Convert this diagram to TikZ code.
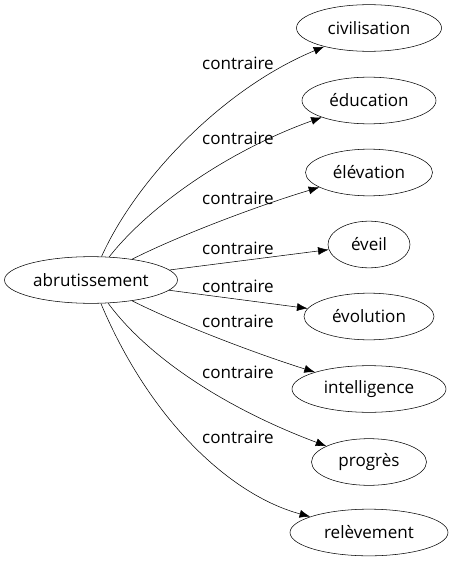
\documentclass[tikz,border=0pt]{standalone}
\usepackage{fontspec}
\setmainfont{Open Sans}
\usetikzlibrary{shapes.geometric, arrows.meta}

\tikzset{
  mot/.style = {ellipse, draw, inner sep = 0pt, minimum height = 35pt},
  rel/.style = {font = \fontsize{12.8}{15}\selectfont}
}

\begin{document}
\begin{tikzpicture}[x = 0.75pt, y = -0.75pt, >={Latex[length = 8pt, width = 6pt]},
                    font = \fontsize{12.8}{15}\selectfont]
        \useasboundingbox (0, 0) rectangle (451, 563);

        \node[mot, minimum width = 129.75pt] (abr) at (91, 280) {abrutissement};

        \node[mot, minimum width = 108.75pt] (civ) at (369, 28) {civilisation};
        \node[mot, minimum width = 100.5pt] (edu) at (369, 100.5) {éducation};
        \node[mot, minimum width = 95.25pt] (elev) at (369, 172.5) {élévation};
        \node[mot, minimum width = 61.5pt] (eveil) at (369, 244.5) {éveil};
        \node[mot, minimum width = 97.5pt] (evol) at (369, 316.5) {évolution};
        \node[mot, minimum width = 115.5pt] (intel) at (369, 389) {intelligence};
        \node[mot, minimum width = 86.25pt] (prog) at (369, 462) {progrès};
        \node[mot, minimum width = 118.5pt] (relev) at (369, 532.5) {relèvement};

        \node[rel] (l1) at (238, 63) {contraire};
        \node[rel] (l2) at (238, 138) {contraire};
        \node[rel] (l3) at (238, 198) {contraire};
        \node[rel] (l4) at (238, 248) {contraire};
        \node[rel] (l5) at (238, 286) {contraire};
        \node[rel] (l6) at (238, 321) {contraire};
        \node[rel] (l7) at (238, 372) {contraire};
        \node[rel] (l8) at (238, 437) {contraire};

        \draw[->] (abr) .. controls (135, 182) and (220, 90) .. (civ);
        \draw[->] (abr) .. controls (150, 205) and (230, 150) .. (edu);
        \draw[->] (abr) .. controls (180, 235) and (260, 205) .. (elev);
        \draw (abr) edge[->] (eveil);
        \draw (abr) edge[->] (evol);
        \draw[->] (abr) .. controls (180, 325) and (260, 355) .. (intel);
        \draw[->] (abr) .. controls (150, 360) and (230, 410) .. (prog);
        \draw[->] (abr) .. controls (150, 420) and (230, 495) .. (relev);
      \end{tikzpicture}
\end{document}
